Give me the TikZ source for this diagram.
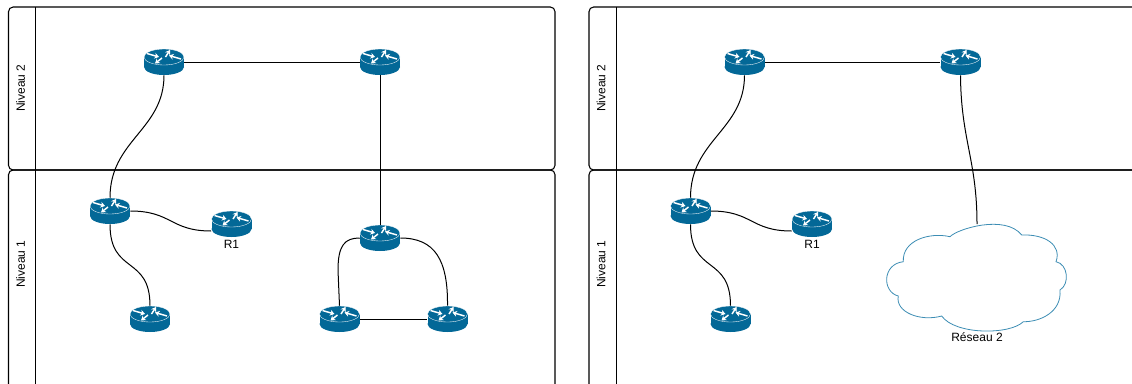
\documentclass[tikz,border=0pt]{standalone}
\usepackage{fontspec}
\setmainfont{Liberation Sans}
\usetikzlibrary{
    positioning,
    arrows.meta
    }
\definecolor{ciscoblue}{HTML}{036897}
\definecolor{cloudblue}{HTML}{3C8DB4}

\begin{document}
\begin{tikzpicture}[x=0.75pt, y=-0.75pt]
\tikzset{lane/.style =
        {
            line width=0.8pt,
            rounded corners=3.5pt
        }
}

\tikzset{lanetitle/.style =
        {
            rotate=90,
            font=\fontsize{9pt}{11pt}\selectfont
        }
}

\tikzset{routerbox/.style =
        {
            shape=rectangle,
            minimum width=30pt,
            minimum height=19.5pt,
            inner sep=0pt
        }
}

\tikzset{caption/.style =
        {
            inner sep=0pt,
            font=\fontsize{9pt}{11pt}\selectfont
        }
}

\tikzset{link/.style =
        {
            line width=0.75pt,
            black
        }
}

\tikzset{flow/.style =
        {
            white,
            line width=1.1pt,
            -{Stealth[length=3.4pt, width=4.4pt]}
        }
}

\tikzset{router/.pic = {
            \fill [ciscoblue] (-20,-5) rectangle (20,5);
            \fill [ciscoblue] (0,5) ellipse [x radius=20, y radius=8];
            \fill [ciscoblue] (0,-5) ellipse [x radius=20, y radius=8];
            \draw [white, line width=0.25pt] (0,-5) ellipse [x radius=20, y radius=8];
            \draw [flow] (-17,-8.5) -- (-5,-5);
            \draw [flow] (1.5,-5) -- (6,-12);
            \draw [flow] (17,-3) -- (5,-6.5);
            \draw [flow] (-2,-4) -- (-9,1.5);
        }
}

\clip (0,0) rectangle (1132,383);

\foreach \prefix / \dx / \wide in {l/0/546.5, r/580.5/560}
{
    \begin{scope}[name prefix=\prefix-, shift={(\dx,0)}]
        \draw[lane] (8.5,7) rectangle ++(\wide,163);
        \draw[lane] (8.5,170) rectangle ++(\wide,230);
        \draw[link] (35.5,7) -- (35.5,400);
        \node[lanetitle] at (20.5,88) (title2) {Niveau 2};
        \node[lanetitle] at (20.5,264) (title1) {Niveau 1};

        \foreach \name / \px / \py in
            {top1/164/62,
                top2/380/62,
                hub/110/211,
                edge/231.5/224,
                leaf/150/319}
        {
            \pic at (\px,\py) {router};
            \node[routerbox] at (\px,\py) (\name) {};
        }

        \node[caption, below=2pt of edge] (edgename) {R1};

        \draw[link] (top1) -- (top2);
        \draw[link] (top1.south) .. controls (164,130) and (110,140) .. (hub.north);
        \draw[link] (hub.east) .. controls (172,211) and (170,231) .. ([yshift=-5.25pt]edge.west);
        \draw[link] (hub.south) .. controls (110,275) and (150,255) .. (leaf.north);
    \end{scope}
}

\begin{scope}[name prefix=l-]
    \foreach \name / \px / \py in
        {ring1/380/238,
            ring2/339.5/319,
            ring3/447.5/319}
    {
        \pic at (\px,\py) {router};
        \node[routerbox] at (\px,\py) (\name) {};
    }

    \draw[link] (top2) -- (ring1);
    \draw[link] (ring1.west) .. controls (345,238) and (338,245) .. (338,270) -- (ring2.north);
    \draw[link] (ring1.east) .. controls (435,238) and (448,260) .. (ring3.north);
    \draw[link] (ring2) -- (ring3);
\end{scope}

\begin{scope}[name prefix=r-]
    \coordinate (cloudtop) at (977,224);
    \draw[cloudblue, line width=0.6pt, fill=white]
        (950,236.7) .. controls (957,229) and (1005,214) .. (1021.7,235)
        .. controls (1045,234) and (1062,245) .. (1056,261.7)
        .. controls (1068,264) and (1070,284) .. (1060,290)
        .. controls (1062,312) and (1040,322) .. (1023.3,321.7)
        .. controls (1010,335) and (955,335) .. (941.7,316)
        .. controls (920,322) and (895,312) .. (898.3,296)
        .. controls (882,292) and (882,264) .. (903.3,261.7)
        .. controls (902,240) and (930,232) .. (950,236.7);
    \node[caption] at (977,337) (cloudname) {Réseau 2};
    \draw[link] (top2.south) .. controls (961,140) and (977,160) .. (cloudtop);
\end{scope}
\end{tikzpicture}
\end{document}
